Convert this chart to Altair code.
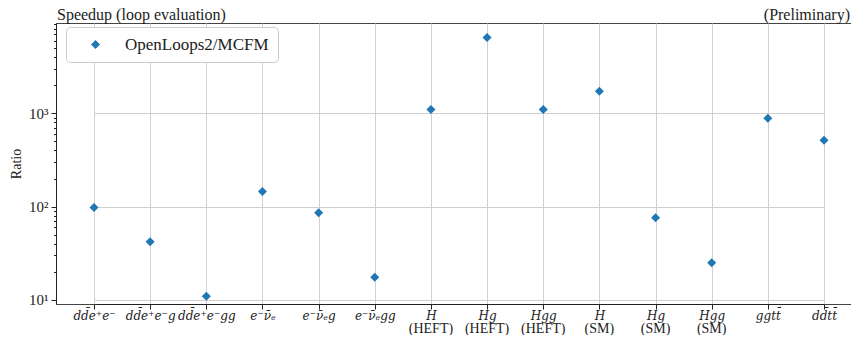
import altair as alt
import pandas as pd

categories = [
    "dd̄e⁺e⁻", "dd̄e⁺e⁻g", "dd̄e⁺e⁻gg", "e⁻ν̄ₑ", "e⁻ν̄ₑg", "e⁻ν̄ₑgg",
    "H ", "Hg ", "Hgg ", "H", "Hg", "Hgg", "ggtt̄", "dd̄tt̄",
]
line2 = ["", "", "", "", "", "", "(HEFT)", "(HEFT)", "(HEFT)", "(SM)", "(SM)", "(SM)", "", ""]
ratios = [98, 42, 11, 145, 86, 17.5, 1100, 6500, 1100, 1720, 76, 25, 885, 515]
series_name = "OpenLoops2/MCFM"

y_ticks = [10, 20, 30, 40, 50, 60, 70, 80, 90, 100, 200, 300, 400, 500, 600,
           700, 800, 900, 1000, 2000, 3000, 4000, 5000, 6000, 7000, 8000, 9000]

df = pd.DataFrame({"cat": categories, "ratio": ratios, "line2": line2,
                   "series": [series_name] * len(categories)})

W, H = 795, 281
FONT = "Liberation Serif"
major_test = "datum.value == 10 || datum.value == 100 || datum.value == 1000"

xscale = alt.Scale(type="point", domain=categories, range=[38, 768], padding=0)

points = alt.Chart(df).mark_point(filled=True, opacity=1, size=81).encode(
    x=alt.X("cat:N", scale=xscale, sort=None, title=None,
            axis=alt.Axis(labelFont="DejaVu Serif", labelFontStyle="italic", labelFontSize=12,
                          labelAngle=0, labelColor="#222", tickSize=5, tickColor="#222",
                          domainColor="#222", gridColor="#d0d0d0", grid=True,
                          labelPadding=1, labelOverlap=False, labelBound=False)),
    y=alt.Y("ratio:Q", scale=alt.Scale(type="log", domain=[9.06, 9270]), title="Ratio",
            axis=alt.Axis(values=y_ticks, labelExpr=f"{major_test} ? (datum.value == 10 ? '10¹' : datum.value == 100 ? '10²' : '10³') : ''",
                          gridOpacity={"condition": {"test": major_test, "value": 1}, "value": 0},
                          tickSize={"condition": {"test": major_test, "value": 5}, "value": 2.5},
                          labelFont=FONT, labelFontSize=15, labelColor="#222",
                          titleFont=FONT, titleFontSize=14, titleFontWeight="normal",
                          titleColor="#222", titlePadding=5, tickColor="#222",
                          domainColor="#222", gridColor="#d0d0d0", labelPadding=3)),
    shape=alt.value("diamond"),
    color=alt.Color("series:N", scale=alt.Scale(range=["#1f77b4"]),
                    legend=alt.Legend(title=None, orient="none", legendX=10, legendY=4,
                                      symbolType="diamond", symbolSize=81,
                                      symbolStrokeWidth=0, symbolOffset=12,
                                      labelFont=FONT, labelFontSize=17, labelColor="#222",
                                      labelOffset=21, padding=9, strokeColor="#cccccc",
                                      cornerRadius=4, fillColor="white")),
)

sub = alt.Chart(df).mark_text(font=FONT, fontSize=14, color="#222", baseline="alphabetic").encode(
    x=alt.X("cat:N", scale=xscale, sort=None),
    y=alt.value(H + 29),
    text="line2:N",
)

prelim = alt.Chart(pd.DataFrame({"t": ["(Preliminary)"]})).mark_text(
    font=FONT, fontSize=16, color="#222", align="right", baseline="alphabetic").encode(
    x=alt.value(W - 1), y=alt.value(-3), text="t:N")

title = alt.Chart(pd.DataFrame({"t": ["Speedup (loop evaluation)"]})).mark_text(
    font=FONT, fontSize=16, color="#222", align="left", baseline="alphabetic").encode(
    x=alt.value(1), y=alt.value(-3), text="t:N")

chart = alt.layer(points, sub, prelim, title).properties(
    width=W, height=H,
    autosize=alt.AutoSizeParams(type="none"),
    padding={"left": 48, "top": 15, "right": 0, "bottom": 31},
).configure_view(stroke="#444", strokeWidth=1)

chart.save("out.html", embed_options={"renderer": "svg", "actions": False})
